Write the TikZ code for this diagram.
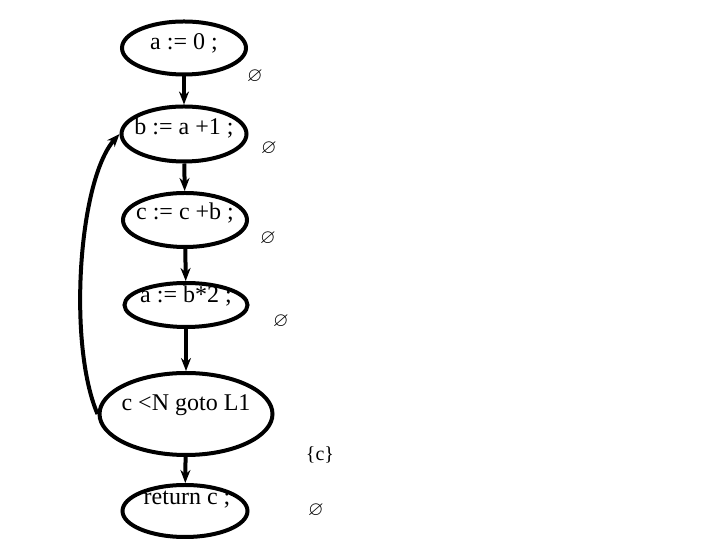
\documentclass[tikz,border=0pt]{standalone}
\usepackage{amssymb}
\usepackage{fontspec}
\setmainfont{Liberation Serif}
\usetikzlibrary{arrows.meta,shapes.geometric}

\begin{document}
\begin{tikzpicture}[x=1pt,y=1pt,
    blk/.style={draw,ellipse,line width=4pt,inner sep=0pt},
    stmt/.style={font=\fontsize{24}{26}\selectfont,inner sep=0pt},
    info/.style={font=\fontsize{20}{22}\selectfont,inner sep=0pt},
    flow/.style={line width=4pt,-{Stealth[length=13pt,width=10pt]}}]
  \useasboundingbox (0,0) rectangle (720,540);

  %--- basic blocks (ellipses)
  \node[blk,minimum width=124pt,minimum height=53pt] (n1) at (184,492) {};
  \node[blk,minimum width=125pt,minimum height=55pt] (n2) at (184,406) {};
  \node[blk,minimum width=124pt,minimum height=54pt] (n3) at (185,320) {};
  \node[blk,minimum width=123pt,minimum height=44pt] (n4) at (186,235) {};
  \node[blk,minimum width=173pt,minimum height=82pt] (n5) at (186,126) {};
  \node[blk,minimum width=125pt,minimum height=52pt] (n6) at (185,29) {};

  %--- statements, set a bit above the centre
  \node[stmt] (t1) at ([yshift=5pt]n1.center) {a := 0 ;};
  \node[stmt] (t2) at ([yshift=6pt]n2.center) {b := a +1 ;};
  \node[stmt] (t3) at ([yshift=7pt]n3.center) {c := c +b ;};
  \node[stmt] (t4) at ([yshift=9pt]n4.center) {a := b*2 ;};
  \node[stmt] (t5) at ([yshift=9pt]n5.center) {c <N goto L1};
  \node[stmt] (t6) at ([xshift=2pt,yshift=11pt]n6.center) {return c ;};

  %--- control flow
  \draw[flow] (n1) -- (n2);
  \draw[flow] (n2) -- (n3);
  \draw[flow] (n3) -- (n4);
  \draw[flow] (n4) -- (n5);
  \draw[flow] (n5) -- (n6);
  % back edge to L1
  \draw[flow] (n5.west) .. controls +(-30,70) and +(-41,-46) .. (n2.west);

  %--- sets on the edges
  \node[info] (s1) at (255,463) {$\varnothing$};
  \node[info] (s2) at (269,391) {$\varnothing$};
  \node[info] (s3) at (268,301) {$\varnothing$};
  \node[info] (s4) at (281,218) {$\varnothing$};
  \node[info] (s5) at (320,85) {\{c\}};
  \node[info] (s6) at (316,29) {$\varnothing$};
\end{tikzpicture}
\end{document}
